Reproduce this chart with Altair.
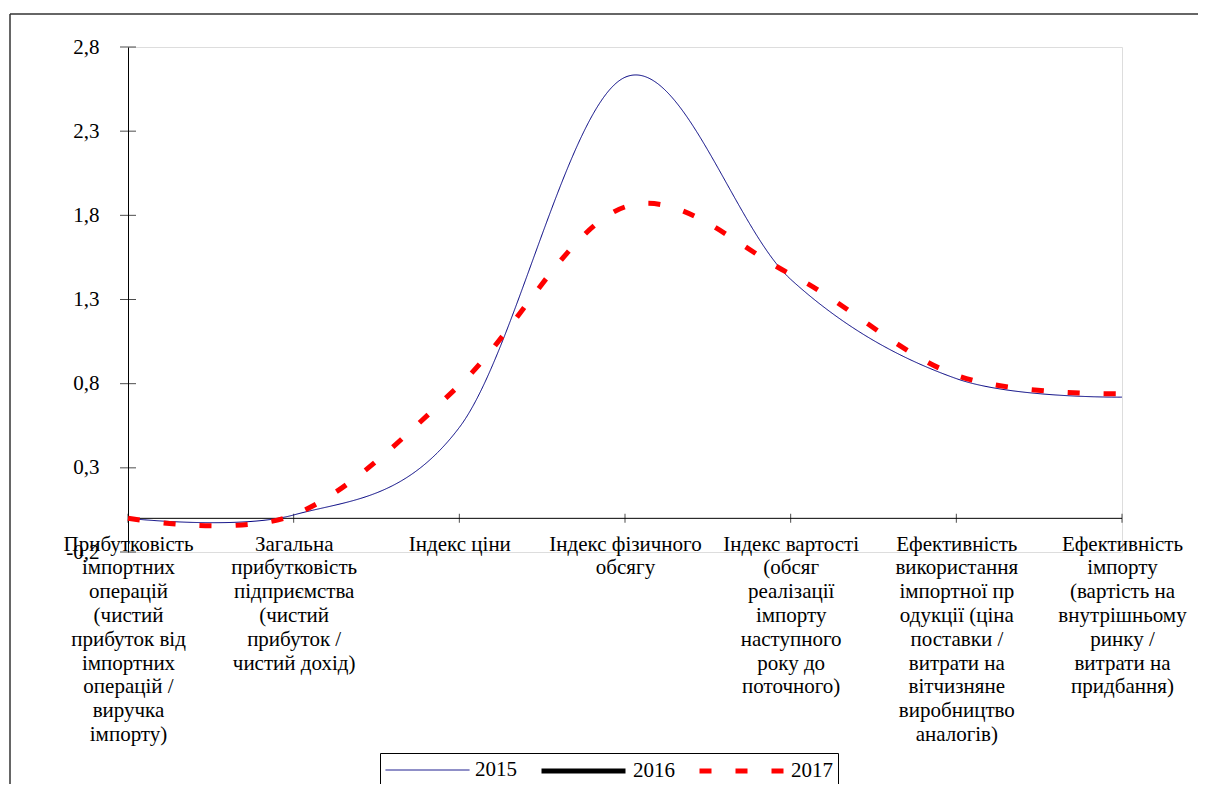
import altair as alt
import pandas as pd

categories = [
    "Прибутковість\nімпортних\nоперацій\n(чистий\nприбуток від\nімпортних\nоперацій /\nвиручка\nімпорту)",
    "Загальна\nприбутковість\nпідприємства\n(чистий\nприбуток /\nчистий дохід)",
    "Індекс ціни",
    "Індекс фізичного\nобсягу",
    "Індекс вартості\n(обсяг\nреалізації\nімпорту\nнаступного\nроку до\nпоточного)",
    "Ефективність\nвикористання\nімпортної пр\nодукції (ціна\nпоставки /\nвитрати на\nвітчизняне\nвиробництво\nаналогів)",
    "Ефективність\nімпорту\n(вартість на\nвнутрішньому\nринку /\nвитрати на\nпридбання)",
]
years = ["2015", "2016", "2017"]
v2015 = [0.0, 0.02, 0.54, 2.62, 1.42, 0.83, 0.72]
v2016 = [None, None, None, None, None, None, None]
v2017 = [0.0, 0.02, 0.79, 1.85, 1.45, 0.85, 0.74]
y_ticks = [-0.2, 0.3, 0.8, 1.3, 1.8, 2.3, 2.8]
colors = ["#000080", "#000000", "#ff0000"]
dashes = [[1, 0], [1, 0], [12, 24]]
widths = [1, 5, 5]

series = {"2015": v2015, "2016": v2016, "2017": v2017}
rows = []
for yr in years:
    for c, val in zip(categories, series[yr]):
        rows.append({"cat": c, "year": yr, "v": val})
df = pd.DataFrame(rows)

FONT = "Liberation Serif, 'Times New Roman', Tinos, 'DejaVu Serif', serif"

xscale = alt.Scale(type="point", padding=0, domain=categories)
yscale = alt.Scale(domain=[-0.2, 2.8], nice=False, zero=False)

legend = alt.Legend(
    title=None, orient="none", legendX=252, legendY=706, direction="horizontal",
    symbolType="M-1,0H7", symbolSize=441, symbolFillColor="transparent",
    labelFont=FONT, labelFontSize=21,
    labelColor="black", labelOffset=68, columnPadding=14, padding=5,
    strokeColor="black", fillColor="white",
)

lines = alt.Chart(df).mark_line(interpolate="cardinal").encode(
    x=alt.X("cat:N", scale=xscale, axis=alt.Axis(
        labelExpr="split(datum.label, '\\n')", title=None, domain=False, ticks=False,
        grid=False, labelPadding=-8, labelFont=FONT, labelFontSize=21,
        labelLineHeight=23.8, labelColor="black", labelAngle=0, labelAlign="center")),
    y=alt.Y("v:Q", scale=yscale, axis=alt.Axis(
        values=y_ticks, title=None, grid=False, ticks=False, domainColor="black",
        domainWidth=1, labelFont=FONT, labelFontSize=21, labelColor="black",
        labelPadding=29,
        labelExpr="replace(replace(format(datum.value, '.1f'), '.', ','), '\u2212', '-')")),
    color=alt.Color("year:N", scale=alt.Scale(domain=years, range=colors), legend=legend),
    strokeDash=alt.StrokeDash("year:N", scale=alt.Scale(domain=years, range=dashes), legend=legend),
    strokeWidth=alt.StrokeWidth("year:N", scale=alt.Scale(type="ordinal", domain=years, range=widths), legend=legend),
)

one = pd.DataFrame({"a": [1]})
frame_top = alt.Chart(one).mark_rule(color="#333333", strokeWidth=1.5).encode(
    x=alt.value(-118), x2=alt.value(1072), y=alt.value(-33)
)
frame_left = alt.Chart(one).mark_rule(color="#333333", strokeWidth=1.5).encode(
    x=alt.value(-118), y=alt.value(-33), y2=alt.value(800)
)

zero_df = pd.DataFrame({"z": [0.0]})
zero_rule = alt.Chart(zero_df).mark_rule(color="black", strokeWidth=1).encode(
    y=alt.Y("z:Q", scale=yscale)
)

xt_df = pd.DataFrame({"cat": categories, "z": [0.0] * len(categories)})
xt = alt.Chart(xt_df).mark_tick(
    orient="vertical", size=9, thickness=1, color="black"
).encode(
    x=alt.X("cat:N", scale=xscale),
    y=alt.Y("z:Q", scale=yscale),
)

yt = alt.Chart(pd.DataFrame({"cat": [categories[0]] * len(y_ticks), "v": y_ticks})).mark_tick(
    orient="horizontal", size=16, thickness=1, color="black"
).encode(
    x=alt.X("cat:N", scale=xscale),
    y=alt.Y("v:Q", scale=yscale),
)

chart = alt.layer(zero_rule, xt, yt, frame_top, frame_left, lines).properties(
    width=994, height=505,
    autosize=alt.AutoSizeParams(type="none"),
    padding={"left": 120, "top": 39, "right": 76, "bottom": 232},
).configure_view(stroke="#808080", strokeWidth=1).configure(background="white")

chart.save("out.html", embed_options={"renderer": "svg", "actions": False})
